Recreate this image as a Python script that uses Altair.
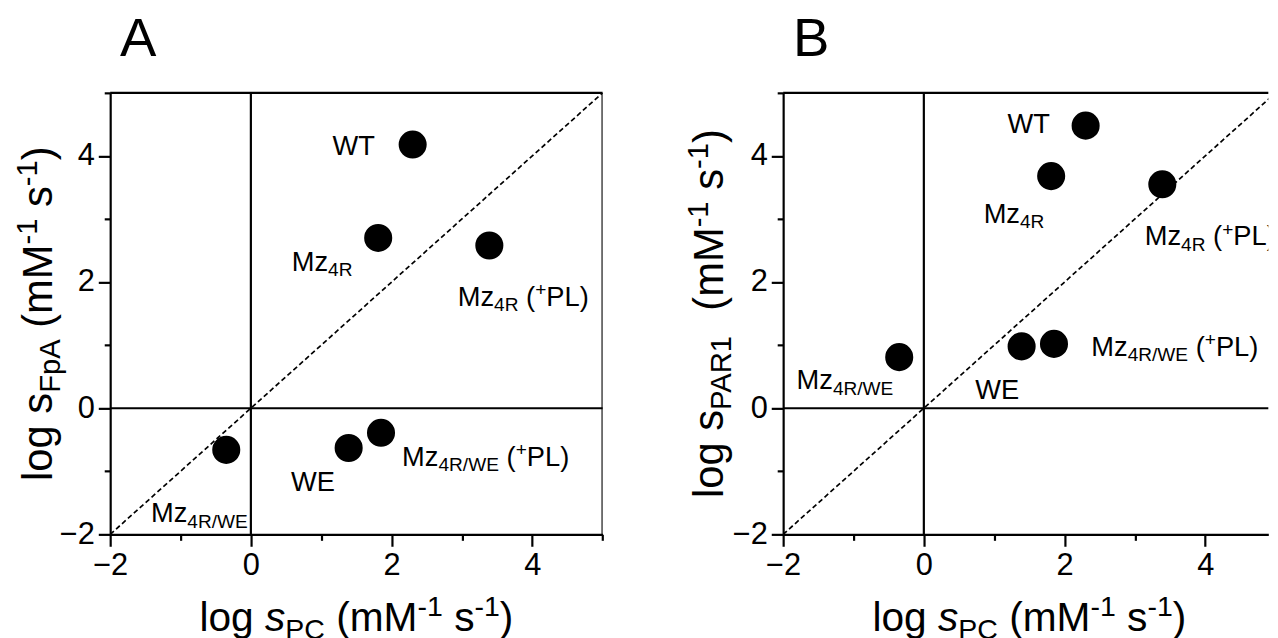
import altair as alt
import pandas as pd

FONT = "Liberation Sans"

# ---------------- data ----------------
strains = ["WT", "Mz4R", "Mz4R (+PL)", "Mz4R/WE", "WE", "Mz4R/WE (+PL)"]
log_s_pc = [2.30, 1.81, 3.39, -0.35, 1.39, 1.85]
log_s_fpa = [4.18, 2.70, 2.58, -0.66, -0.63, -0.39]
log_s_par1 = [4.48, 3.68, 3.55, 0.81, 0.98, 1.02]

# label anchors (left edge, baseline) in data units
label_a_x = [1.16, 0.58, 2.94, -1.42, 0.57, 2.15]
label_a_y = [4.01, 2.18, 1.62, -1.81, -1.31, -0.91]
label_b_x = [1.19, 0.85, 3.14, -1.81, 0.73, 2.38]
label_b_y = [4.37, 2.94, 2.58, 0.30, 0.14, 0.83]

label_parts = {
    "WT": [("WT", "n")],
    "Mz4R": [("Mz", "n"), ("4R", "sub")],
    "Mz4R (+PL)": [("Mz", "n"), ("4R", "sub"), (" (", "n"), ("+", "sup"), ("PL)", "n")],
    "Mz4R/WE": [("Mz", "n"), ("4R/WE", "sub")],
    "WE": [("WE", "n")],
    "Mz4R/WE (+PL)": [("Mz", "n"), ("4R/WE", "sub"), (" (", "n"), ("+", "sup"), ("PL)", "n")],
}
x_title_parts = [("log ", "n"), ("s", "it"), ("PC", "sub"), (" (mM", "n"), ("-1", "sup"),
                 (" s", "n"), ("-1", "sup"), (")", "n")]
y_title_a_parts = [("log ", "n"), ("s", "n"), ("FpA", "sub"), (" (mM", "n"), ("-1", "sup"),
                   (" s", "n"), ("-1", "sup"), (")", "n")]
y_title_b_parts = [("log ", "n"), ("s", "n"), ("PAR1", "sub"), ("  (mM", "n"), ("-1", "sup"),
                   (" s", "n"), ("-1", "sup"), (")", "n")]

all_ticks = [-2, -1, 0, 1, 2, 3, 4, 5]
diag = [-2, 5]
zero = [0]
edge = [5]

# ---------------- styling ----------------
LABEL_FS = 27.5
TICK_FS = 31
XTITLE_FS = 41
YTITLE_FS = 42
LETTER_FS = 55
LW = 2.2
SMALL = 0.7
SUB_SHIFT = 0.2
SUP_SHIFT = 0.36
H = 445
W_A = 496.3
W_B = 489.0
XMAX_B = -2 + 7 * W_B / W_A
SY = H / 7.0

AW = {' ': 278, '(': 333, ')': 333, '-': 333, '+': 584, '/': 278, '1': 556, '4': 556,
      'A': 667, 'C': 722, 'E': 667, 'F': 611, 'L': 556, 'M': 833, 'P': 667, 'R': 722,
      'T': 611, 'W': 944, 'a': 556, 'g': 556, 'l': 222, 'm': 833, 'o': 556, 'p': 556,
      's': 500, 'z': 500}


def seg_rows(parts, fs):
    rows, off = [], 0.0
    for txt, kind in parts:
        small = kind in ("sub", "sup")
        size = fs * SMALL if small else fs
        shift = fs * SUB_SHIFT if kind == "sub" else (-fs * SUP_SHIFT if kind == "sup" else 0.0)
        core = txt.strip(" ")
        lead = len(txt) - len(txt.lstrip(" "))
        trail = len(txt) - len(txt.rstrip(" "))
        off += lead * AW[" "] * size / 1000
        rows.append({"text": core, "off": off, "shift": shift, "size": size,
                     "italic": kind == "it"})
        off += (sum(AW[c] for c in core) + trail * AW[" "]) * size / 1000
    return rows, off


def label_frame(xs, ys, sx):
    rows = []
    for name, lx, ly in zip(strains, xs, ys):
        segs, _ = seg_rows(label_parts[name], LABEL_FS)
        for s in segs:
            rows.append({"x": lx + s["off"] / sx, "y": ly - s["shift"] / SY,
                         "text": s["text"], "size": s["size"]})
    return pd.DataFrame(rows)


def xtitle_frame(parts, center, baseline):
    segs, total = seg_rows(parts, XTITLE_FS)
    start = center - total / 2
    return pd.DataFrame([{"px": start + s["off"], "py": baseline + s["shift"], "text": s["text"],
                          "size": s["size"], "italic": s["italic"]} for s in segs])


def ytitle_frame(parts, center, baseline):
    segs, total = seg_rows(parts, YTITLE_FS)
    start = center + total / 2
    return pd.DataFrame([{"px": baseline + s["shift"], "py": start - s["off"], "text": s["text"],
                          "size": s["size"], "italic": s["italic"]} for s in segs])


def make_axis():
    return alt.Axis(values=all_ticks,
                    labelExpr="datum.value % 2 === 0 ? datum.label : ''",
                    tickSize={"condition": {"test": "datum.value % 2 === 0", "value": 12}, "value": 6},
                    tickWidth=LW, tickColor="black", domainColor="black", domainWidth=LW,
                    labelFont=FONT, labelFontSize=TICK_FS, labelColor="black", labelPadding=4,
                    grid=False, title=None, labelFlush=False, labelOverlap=False)


def px_text(df, angle):
    base = alt.Chart(df).encode(
        x=alt.X("px:Q", scale=None), y=alt.Y("py:Q", scale=None),
        text="text:N", size=alt.Size("size:Q", scale=None))
    normal = base.transform_filter("!datum.italic").mark_text(
        align="left", baseline="alphabetic", font=FONT, color="black", angle=angle)
    italic = base.transform_filter("datum.italic").mark_text(
        align="left", baseline="alphabetic", font=FONT, color="black", angle=angle,
        fontStyle="italic")
    return [normal, italic]


def panel(yvals, lab_x, lab_y, ytitle_parts, letter, xmax, width, ytitle_base, spacer):
    xs = alt.Scale(domain=[-2, xmax], nice=False, zero=False)
    ys = alt.Scale(domain=[-2, 5], nice=False, zero=False)
    sx = width / (xmax + 2)

    def X(f):
        return alt.X(f, type="quantitative", scale=xs, axis=make_axis())

    def Y(f):
        return alt.Y(f, type="quantitative", scale=ys, axis=make_axis())

    edge_df = pd.DataFrame({"v": edge})
    zero_df = pd.DataFrame({"v": zero})
    diag_df = pd.DataFrame({"x": diag, "y": diag})
    pts = pd.DataFrame({"strain": strains, "x": log_s_pc, "y": yvals})

    layers = [
        alt.Chart(edge_df).mark_rule(color="black", strokeWidth=LW).encode(y=Y("v")),
        alt.Chart(edge_df).mark_rule(color="black", strokeWidth=LW, clip=True).encode(x=X("v")),
        alt.Chart(zero_df).mark_rule(color="black", strokeWidth=LW).encode(y=Y("v")),
        alt.Chart(zero_df).mark_rule(color="black", strokeWidth=LW).encode(x=X("v")),
        alt.Chart(diag_df).mark_line(color="black", strokeWidth=1.7, strokeDash=[5, 3],
                                     clip=True).encode(x=X("x"), y=Y("y")),
        alt.Chart(pts).mark_circle(size=800, color="black", opacity=1).encode(x=X("x"), y=Y("y")),
        alt.Chart(label_frame(lab_x, lab_y, sx)).mark_text(
            align="left", baseline="alphabetic", font=FONT, color="black", clip=True).encode(
            x=X("x"), y=Y("y"), text="text:N", size=alt.Size("size:Q", scale=None)),
    ]
    layers += px_text(xtitle_frame(x_title_parts, W_A / 2, H + 97), 0)
    layers += px_text(ytitle_frame(ytitle_parts, H / 2, ytitle_base), 270)
    letter_df = pd.DataFrame({"px": [10], "py": [-37], "text": [letter]})
    layers.append(alt.Chart(letter_df).mark_text(
        align="left", baseline="alphabetic", font=FONT, fontSize=LETTER_FS, color="black").encode(
        x=alt.X("px:Q", scale=None), y=alt.Y("py:Q", scale=None), text="text:N"))
    if spacer:
        sp = pd.DataFrame({"x1": [-102.7], "x2": [-101.7], "y1": [-83], "y2": [-82]})
        layers.append(alt.Chart(sp).mark_rect(opacity=0).encode(
            x=alt.X("x1:Q", scale=None), x2="x2:Q", y=alt.Y("y1:Q", scale=None), y2="y2:Q"))
    return alt.layer(*layers).properties(width=width, height=H)


pa = panel(log_s_fpa, label_a_x, label_a_y, y_title_a_parts, "A", 5, W_A, -59, True)
pb = panel(log_s_par1, label_b_x, label_b_y, y_title_b_parts, "B", XMAX_B, W_B, -61, False)

chart = alt.hconcat(pa, pb, spacing=181.3, bounds="flush").properties(
    padding={"left": 0, "top": 0, "right": 0, "bottom": 0}
).configure_view(stroke=None)

chart.save("out.html", embed_options={"renderer": "svg", "actions": False})
